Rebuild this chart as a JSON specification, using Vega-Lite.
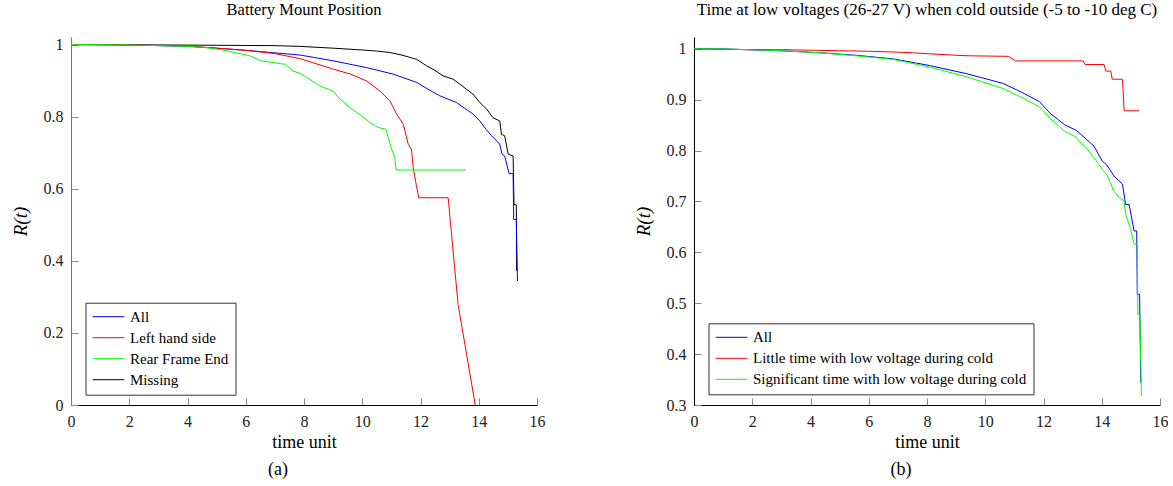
{
  "$schema": "https://vega.github.io/schema/vega-lite/v6.json",
  "padding": {"left": 11, "top": 1, "right": 0, "bottom": 0},
  "background": "white",
  "spacing": 89,
  "config": {
    "font": "Liberation Serif",
    "view": {"stroke": null},
    "axis": {"grid": false, "labelFlush": false, "tickSize": -7, "tickColor": "#888888", "tickWidth": 1, "domainColor": "#000000", "domainWidth": 1, "labelPadding": 15, "labelFontSize": 16, "labelColor": "#222222", "labelFont": "Liberation Serif", "titleFont": "Liberation Serif", "titleFontWeight": "normal", "titleColor": "#000000"},
    "legend": {"symbolType": "stroke", "symbolSize": 1000, "symbolStrokeWidth": 1, "labelFontSize": 15, "labelFont": "Liberation Serif", "labelColor": "#000000", "labelOffset": 5, "rowPadding": 5, "padding": 6.5, "strokeColor": "#333333", "fillColor": "#ffffff", "clipHeight": 15, "labelLimit": 500},
    "title": {"font": "Liberation Serif", "fontWeight": "normal", "color": "#000000"}
  },
  "resolve": {"scale": {"color": "independent", "x": "independent", "y": "independent"}},
  "datasets": {
    "a": [
      {"g": "Missing", "t": 0, "r": 1}, {"g": "Missing", "t": 1, "r": 1}, {"g": "Missing", "t": 2, "r": 0.9995}, {"g": "Missing", "t": 3, "r": 0.999}, {"g": "Missing", "t": 4, "r": 0.9985}, {"g": "Missing", "t": 5, "r": 0.998}, {"g": "Missing", "t": 6, "r": 0.9975}, {"g": "Missing", "t": 7, "r": 0.997}, {"g": "Missing", "t": 7.86, "r": 0.995}, {"g": "Missing", "t": 9, "r": 0.99}, {"g": "Missing", "t": 10, "r": 0.985}, {"g": "Missing", "t": 10.5, "r": 0.982}, {"g": "Missing", "t": 10.95, "r": 0.978}, {"g": "Missing", "t": 11.4, "r": 0.97}, {"g": "Missing", "t": 11.87, "r": 0.959}, {"g": "Missing", "t": 12.21, "r": 0.941}, {"g": "Missing", "t": 12.5, "r": 0.928}, {"g": "Missing", "t": 12.78, "r": 0.913}, {"g": "Missing", "t": 13.12, "r": 0.904}, {"g": "Missing", "t": 13.35, "r": 0.89}, {"g": "Missing", "t": 13.58, "r": 0.876}, {"g": "Missing", "t": 13.81, "r": 0.862}, {"g": "Missing", "t": 14.04, "r": 0.839}, {"g": "Missing", "t": 14.27, "r": 0.821}, {"g": "Missing", "t": 14.49, "r": 0.797}, {"g": "Missing", "t": 14.72, "r": 0.788}, {"g": "Missing", "t": 14.78, "r": 0.751}, {"g": "Missing", "t": 14.89, "r": 0.747}, {"g": "Missing", "t": 15.01, "r": 0.696}, {"g": "Missing", "t": 15.18, "r": 0.691}, {"g": "Missing", "t": 15.21, "r": 0.557}, {"g": "Missing", "t": 15.29, "r": 0.555}, {"g": "Missing", "t": 15.3, "r": 0.372},
      {"g": "All", "t": 0, "r": 1}, {"g": "All", "t": 1, "r": 0.9995}, {"g": "All", "t": 2, "r": 0.999}, {"g": "All", "t": 3, "r": 0.997}, {"g": "All", "t": 4, "r": 0.995}, {"g": "All", "t": 5, "r": 0.99}, {"g": "All", "t": 6, "r": 0.984}, {"g": "All", "t": 7, "r": 0.977}, {"g": "All", "t": 7.86, "r": 0.971}, {"g": "All", "t": 9, "r": 0.955}, {"g": "All", "t": 10.15, "r": 0.936}, {"g": "All", "t": 11.06, "r": 0.918}, {"g": "All", "t": 11.87, "r": 0.895}, {"g": "All", "t": 12.3, "r": 0.874}, {"g": "All", "t": 12.66, "r": 0.858}, {"g": "All", "t": 13.24, "r": 0.839}, {"g": "All", "t": 13.5, "r": 0.824}, {"g": "All", "t": 13.81, "r": 0.807}, {"g": "All", "t": 14.04, "r": 0.788}, {"g": "All", "t": 14.25, "r": 0.765}, {"g": "All", "t": 14.44, "r": 0.747}, {"g": "All", "t": 14.72, "r": 0.724}, {"g": "All", "t": 14.8, "r": 0.696}, {"g": "All", "t": 14.89, "r": 0.691}, {"g": "All", "t": 15.04, "r": 0.642}, {"g": "All", "t": 15.18, "r": 0.642}, {"g": "All", "t": 15.2, "r": 0.515}, {"g": "All", "t": 15.29, "r": 0.515}, {"g": "All", "t": 15.33, "r": 0.344},
      {"g": "Left hand side", "t": 0, "r": 1}, {"g": "Left hand side", "t": 2, "r": 0.999}, {"g": "Left hand side", "t": 4, "r": 0.996}, {"g": "Left hand side", "t": 5, "r": 0.99}, {"g": "Left hand side", "t": 6, "r": 0.984}, {"g": "Left hand side", "t": 7, "r": 0.975}, {"g": "Left hand side", "t": 7.86, "r": 0.961}, {"g": "Left hand side", "t": 9, "r": 0.932}, {"g": "Left hand side", "t": 9.6, "r": 0.918}, {"g": "Left hand side", "t": 10.15, "r": 0.899}, {"g": "Left hand side", "t": 10.61, "r": 0.871}, {"g": "Left hand side", "t": 10.95, "r": 0.844}, {"g": "Left hand side", "t": 11.18, "r": 0.807}, {"g": "Left hand side", "t": 11.41, "r": 0.779}, {"g": "Left hand side", "t": 11.58, "r": 0.723}, {"g": "Left hand side", "t": 11.69, "r": 0.71}, {"g": "Left hand side", "t": 11.75, "r": 0.659}, {"g": "Left hand side", "t": 11.84, "r": 0.617}, {"g": "Left hand side", "t": 11.94, "r": 0.575}, {"g": "Left hand side", "t": 12.95, "r": 0.575}, {"g": "Left hand side", "t": 13.29, "r": 0.279}, {"g": "Left hand side", "t": 13.88, "r": 0},
      {"g": "Rear Frame End", "t": 0, "r": 1}, {"g": "Rear Frame End", "t": 2, "r": 0.999}, {"g": "Rear Frame End", "t": 3, "r": 0.997}, {"g": "Rear Frame End", "t": 4, "r": 0.995}, {"g": "Rear Frame End", "t": 4.6, "r": 0.992}, {"g": "Rear Frame End", "t": 5.2, "r": 0.985}, {"g": "Rear Frame End", "t": 6.14, "r": 0.969}, {"g": "Rear Frame End", "t": 6.51, "r": 0.955}, {"g": "Rear Frame End", "t": 7.37, "r": 0.945}, {"g": "Rear Frame End", "t": 7.62, "r": 0.927}, {"g": "Rear Frame End", "t": 7.86, "r": 0.92}, {"g": "Rear Frame End", "t": 8.09, "r": 0.909}, {"g": "Rear Frame End", "t": 8.55, "r": 0.885}, {"g": "Rear Frame End", "t": 9.0, "r": 0.871}, {"g": "Rear Frame End", "t": 9.18, "r": 0.853}, {"g": "Rear Frame End", "t": 9.58, "r": 0.825}, {"g": "Rear Frame End", "t": 9.98, "r": 0.802}, {"g": "Rear Frame End", "t": 10.26, "r": 0.784}, {"g": "Rear Frame End", "t": 10.55, "r": 0.77}, {"g": "Rear Frame End", "t": 10.81, "r": 0.765}, {"g": "Rear Frame End", "t": 10.89, "r": 0.742}, {"g": "Rear Frame End", "t": 11.01, "r": 0.71}, {"g": "Rear Frame End", "t": 11.12, "r": 0.686}, {"g": "Rear Frame End", "t": 11.16, "r": 0.652}, {"g": "Rear Frame End", "t": 13.55, "r": 0.652}
    ],
    "b": [
      {"g": "Little time with low voltage during cold", "t": 0, "r": 1}, {"g": "Little time with low voltage during cold", "t": 1, "r": 0.999}, {"g": "Little time with low voltage during cold", "t": 2, "r": 0.998}, {"g": "Little time with low voltage during cold", "t": 3.07, "r": 0.998}, {"g": "Little time with low voltage during cold", "t": 4, "r": 0.997}, {"g": "Little time with low voltage during cold", "t": 5, "r": 0.996}, {"g": "Little time with low voltage during cold", "t": 6, "r": 0.995}, {"g": "Little time with low voltage during cold", "t": 6.84, "r": 0.9935}, {"g": "Little time with low voltage during cold", "t": 7.5, "r": 0.992}, {"g": "Little time with low voltage during cold", "t": 8.09, "r": 0.99}, {"g": "Little time with low voltage during cold", "t": 9.03, "r": 0.987}, {"g": "Little time with low voltage during cold", "t": 9.5, "r": 0.986}, {"g": "Little time with low voltage during cold", "t": 10.79, "r": 0.985}, {"g": "Little time with low voltage during cold", "t": 11.04, "r": 0.976}, {"g": "Little time with low voltage during cold", "t": 13.36, "r": 0.976}, {"g": "Little time with low voltage during cold", "t": 13.43, "r": 0.969}, {"g": "Little time with low voltage during cold", "t": 14.08, "r": 0.969}, {"g": "Little time with low voltage during cold", "t": 14.14, "r": 0.956}, {"g": "Little time with low voltage during cold", "t": 14.31, "r": 0.956}, {"g": "Little time with low voltage during cold", "t": 14.36, "r": 0.94}, {"g": "Little time with low voltage during cold", "t": 14.71, "r": 0.94}, {"g": "Little time with low voltage during cold", "t": 14.77, "r": 0.878}, {"g": "Little time with low voltage during cold", "t": 15.28, "r": 0.878},
      {"g": "All", "t": 0, "r": 1}, {"g": "All", "t": 1, "r": 0.9995}, {"g": "All", "t": 1.82, "r": 0.998}, {"g": "All", "t": 3, "r": 0.996}, {"g": "All", "t": 4.33, "r": 0.992}, {"g": "All", "t": 5.58, "r": 0.987}, {"g": "All", "t": 6.84, "r": 0.98}, {"g": "All", "t": 8.09, "r": 0.967}, {"g": "All", "t": 9.35, "r": 0.951}, {"g": "All", "t": 10.6, "r": 0.932}, {"g": "All", "t": 11.23, "r": 0.915}, {"g": "All", "t": 11.86, "r": 0.896}, {"g": "All", "t": 12.23, "r": 0.873}, {"g": "All", "t": 12.74, "r": 0.85}, {"g": "All", "t": 13.11, "r": 0.84}, {"g": "All", "t": 13.28, "r": 0.832}, {"g": "All", "t": 13.49, "r": 0.821}, {"g": "All", "t": 13.73, "r": 0.809}, {"g": "All", "t": 14.02, "r": 0.779}, {"g": "All", "t": 14.18, "r": 0.771}, {"g": "All", "t": 14.42, "r": 0.75}, {"g": "All", "t": 14.71, "r": 0.734}, {"g": "All", "t": 14.82, "r": 0.694}, {"g": "All", "t": 14.94, "r": 0.694}, {"g": "All", "t": 15.11, "r": 0.642}, {"g": "All", "t": 15.2, "r": 0.642}, {"g": "All", "t": 15.22, "r": 0.517}, {"g": "All", "t": 15.3, "r": 0.517}, {"g": "All", "t": 15.34, "r": 0.344},
      {"g": "Significant time with low voltage during cold", "t": 0, "r": 1}, {"g": "Significant time with low voltage during cold", "t": 1, "r": 0.9995}, {"g": "Significant time with low voltage during cold", "t": 2, "r": 0.998}, {"g": "Significant time with low voltage during cold", "t": 3, "r": 0.996}, {"g": "Significant time with low voltage during cold", "t": 4.33, "r": 0.992}, {"g": "Significant time with low voltage during cold", "t": 5.58, "r": 0.986}, {"g": "Significant time with low voltage during cold", "t": 6.84, "r": 0.979}, {"g": "Significant time with low voltage during cold", "t": 8.09, "r": 0.964}, {"g": "Significant time with low voltage during cold", "t": 9.35, "r": 0.945}, {"g": "Significant time with low voltage during cold", "t": 10.6, "r": 0.922}, {"g": "Significant time with low voltage during cold", "t": 11.23, "r": 0.905}, {"g": "Significant time with low voltage during cold", "t": 11.86, "r": 0.886}, {"g": "Significant time with low voltage during cold", "t": 12.23, "r": 0.863}, {"g": "Significant time with low voltage during cold", "t": 12.74, "r": 0.837}, {"g": "Significant time with low voltage during cold", "t": 13.11, "r": 0.827}, {"g": "Significant time with low voltage during cold", "t": 13.28, "r": 0.815}, {"g": "Significant time with low voltage during cold", "t": 13.49, "r": 0.804}, {"g": "Significant time with low voltage during cold", "t": 13.73, "r": 0.786}, {"g": "Significant time with low voltage during cold", "t": 14.02, "r": 0.763}, {"g": "Significant time with low voltage during cold", "t": 14.18, "r": 0.752}, {"g": "Significant time with low voltage during cold", "t": 14.42, "r": 0.72}, {"g": "Significant time with low voltage during cold", "t": 14.6, "r": 0.708}, {"g": "Significant time with low voltage during cold", "t": 14.77, "r": 0.701}, {"g": "Significant time with low voltage during cold", "t": 14.82, "r": 0.675}, {"g": "Significant time with low voltage during cold", "t": 14.99, "r": 0.645}, {"g": "Significant time with low voltage during cold", "t": 15.11, "r": 0.616}, {"g": "Significant time with low voltage during cold", "t": 15.22, "r": 0.616}, {"g": "Significant time with low voltage during cold", "t": 15.24, "r": 0.478}, {"g": "Significant time with low voltage during cold", "t": 15.31, "r": 0.478}, {"g": "Significant time with low voltage during cold", "t": 15.36, "r": 0.318}
    ]
  },
  "hconcat": [
    {
      "title": {"text": "(a)", "orient": "bottom", "fontSize": 18, "offset": 10, "anchor": "middle"},
      "vconcat": [
        {
          "width": 466,
          "height": 368,
          "title": {"text": "Battery Mount Position", "fontSize": 16.5, "frame": "group", "anchor": "middle", "baseline": "alphabetic", "offset": 5},
          "data": {"name": "a"},
          "mark": {"type": "line", "strokeWidth": 1},
          "encoding": {
            "x": {"field": "t", "type": "quantitative", "scale": {"domain": [0, 16], "nice": false, "zero": false}, "axis": {"values": [0, 2, 4, 6, 8, 10, 12, 14, 16], "format": "d", "title": "time unit", "titleFontSize": 18, "titlePadding": 4}},
            "y": {"field": "r", "type": "quantitative", "scale": {"domain": [0, 1.021], "nice": false}, "axis": {"values": [0, 0.2, 0.4, 0.6, 0.8, 1], "format": "~g", "title": "R(t)", "titleFontSize": 19, "titleFontStyle": "italic", "titlePadding": 13, "domainColor": "#777777"}},
            "color": {"field": "g", "type": "nominal", "scale": {"domain": ["All", "Left hand side", "Rear Frame End", "Missing"], "range": ["#0000ff", "#ff0000", "#00ff00", "#000000"]}, "legend": {"title": null, "orient": "none", "legendX": 14.5, "legendY": 265.7}}
          }
        }
      ]
    },
    {
      "title": {"text": "(b)", "orient": "bottom", "fontSize": 18, "offset": 10, "anchor": "middle"},
      "vconcat": [
        {
          "width": 466,
          "height": 368,
          "title": {"text": "Time at low voltages (26-27 V) when cold outside (-5 to -10 deg C)", "fontSize": 17, "frame": "group", "anchor": "middle", "baseline": "alphabetic", "offset": 5},
          "data": {"name": "b"},
          "mark": {"type": "line", "strokeWidth": 1},
          "encoding": {
            "x": {"field": "t", "type": "quantitative", "scale": {"domain": [0, 16], "nice": false, "zero": false}, "axis": {"values": [0, 2, 4, 6, 8, 10, 12, 14, 16], "format": "d", "title": "time unit", "titleFontSize": 18, "titlePadding": 4}},
            "y": {"field": "r", "type": "quantitative", "scale": {"domain": [0.3, 1.023], "nice": false, "zero": false}, "axis": {"values": [0.3, 0.4, 0.5, 0.6, 0.7, 0.8, 0.9, 1], "format": "~g", "title": "R(t)", "titleFontSize": 19, "titleFontStyle": "italic", "titlePadding": 13}},
            "color": {"field": "g", "type": "nominal", "scale": {"domain": ["All", "Little time with low voltage during cold", "Significant time with low voltage during cold"], "range": ["#0000ff", "#ff0000", "#00ff00"]}, "legend": {"title": null, "orient": "none", "legendX": 14.5, "legendY": 286.3}}
          }
        }
      ]
    }
  ]
}
